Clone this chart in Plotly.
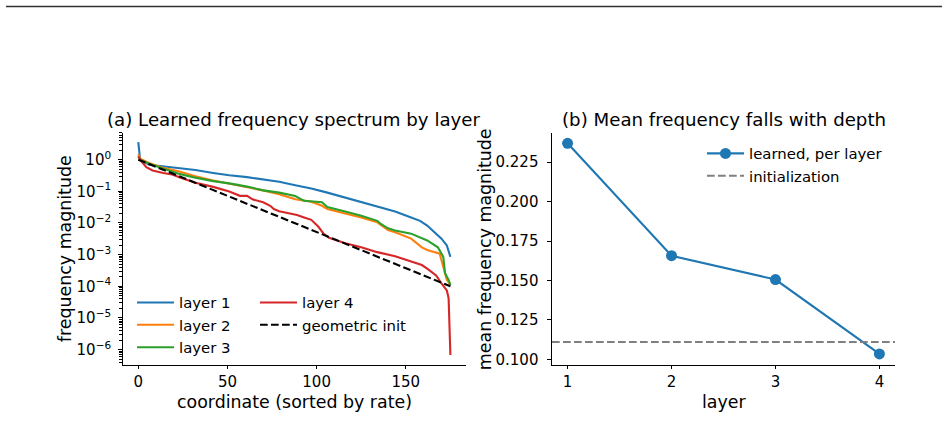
import plotly.graph_objects as go

W, H = 948, 423

# ---------------- data: panel (a) ----------------
coord_l1 = [0, 1, 6, 14, 23, 32, 42, 51, 61, 70, 79, 88, 97, 106, 116, 125, 134, 144, 153, 158, 162, 166, 170, 173, 175]
mag_l1 = [3.55, 1.0, 0.69, 0.62, 0.55, 0.47, 0.38, 0.32, 0.28, 0.24, 0.20, 0.155, 0.123, 0.091, 0.063,
          0.045, 0.032, 0.023, 0.015, 0.0117, 0.0083, 0.0051, 0.0032, 0.00195, 0.00085]

coord_l2 = [0, 1, 6, 14, 23, 32, 42, 51, 61, 70, 79, 88, 97, 103, 106, 116, 125, 134, 140, 144, 153, 159,
            162, 169, 171, 173, 175]
mag_l2 = [1.5, 1.07, 0.79, 0.55, 0.42, 0.30, 0.22, 0.174, 0.138, 0.107, 0.081, 0.056, 0.047, 0.035, 0.0275,
          0.020, 0.015, 0.0105, 0.006, 0.0051, 0.0032, 0.0017, 0.0014, 0.00107, 0.00041, 0.00016, 0.00011]

coord_l3 = [0, 1, 6, 14, 23, 32, 42, 51, 61, 70, 79, 88, 93, 103, 106, 116, 125, 134, 136, 140, 144, 153,
            159, 162, 168, 171, 172, 174, 175]
mag_l3 = [1.26, 1.0, 0.74, 0.52, 0.355, 0.27, 0.21, 0.178, 0.141, 0.107, 0.091, 0.071, 0.050, 0.045, 0.032,
          0.023, 0.017, 0.0117, 0.0093, 0.0068, 0.0058, 0.0046, 0.0034, 0.0028, 0.0017, 0.00085, 0.00026,
          0.00016, 0.00011]

coord_l4 = [0, 2, 4.5, 8, 14, 19, 23, 32, 42, 51, 57, 61, 64, 70, 74, 76, 79, 89, 93, 97, 101, 104, 107,
            116, 125, 134, 144, 153, 159, 162, 167, 170, 173, 174, 175]
mag_l4 = [1.26, 0.85, 0.575, 0.457, 0.38, 0.34, 0.28, 0.186, 0.138, 0.098, 0.072, 0.072, 0.056, 0.045, 0.035,
          0.0275, 0.0234, 0.018, 0.015, 0.0126, 0.0076, 0.0045, 0.0034, 0.0023, 0.0017, 0.0012, 0.00089,
          0.00062, 0.00047, 0.00036, 0.00022, 0.000123, 0.000074, 0.000042, 6.8e-7]

coord_init = [0, 175]
mag_init = [1.0, 1e-4]

# ---------------- data: panel (b) ----------------
layers = [1, 2, 3, 4]
mean_freq = [0.2369, 0.1657, 0.1506, 0.1035]
init_mean = [0.1111]

# tick labels
x_ticks_a = [0, 50, 100, 150]
y_tickvals_a = [1, 1e-1, 1e-2, 1e-3, 1e-4, 1e-5, 1e-6]
y_ticktext_a = ["10<sup>0</sup>", "10<sup>\u22121</sup>", "10<sup>\u22122</sup>", "10<sup>\u22123</sup>",
                "10<sup>\u22124</sup>", "10<sup>\u22125</sup>", "10<sup>\u22126</sup>"]
y_minor_a = [m * 10.0 ** k for k in range(-7, 1) for m in range(2, 10)]
y_ticks_b = [0.100, 0.125, 0.150, 0.175, 0.200, 0.225]

C1, C2, C3, C4 = "#1f77b4", "#ff7f0e", "#2ca02c", "#d62728"
FONT = "DejaVu Sans"

def px_x(p):
    return p / W

def px_y(p):
    return 1 - p / H

# axes boxes in pixels
A_L, A_R = 122.7, 466.0
B_L, B_R = 552.0, 895.0
TOP, BOT = 134.0, 368.0

fig = go.Figure()

LW = 2.1
fig.add_trace(go.Scatter(x=coord_l1, y=mag_l1, mode="lines", name="layer 1",
                         line=dict(color=C1, width=LW), legend="legend", xaxis="x", yaxis="y"))
fig.add_trace(go.Scatter(x=coord_l2, y=mag_l2, mode="lines", name="layer 2",
                         line=dict(color=C2, width=LW), legend="legend", xaxis="x", yaxis="y"))
fig.add_trace(go.Scatter(x=coord_l3, y=mag_l3, mode="lines", name="layer 3",
                         line=dict(color=C3, width=LW), legend="legend", xaxis="x", yaxis="y"))
fig.add_trace(go.Scatter(x=coord_l4, y=mag_l4, mode="lines", name="layer 4",
                         line=dict(color=C4, width=LW), legend="legend2", xaxis="x", yaxis="y"))
fig.add_trace(go.Scatter(x=coord_init, y=mag_init, mode="lines", name="geometric init",
                         line=dict(color="black", width=LW, dash="7.7px,3.3px"), legend="legend2",
                         xaxis="x", yaxis="y"))

xr_b = [0.85, 4.15]
fig.add_trace(go.Scatter(x=layers, y=mean_freq, mode="lines+markers", name="learned, per layer",
                         line=dict(color=C1, width=LW), marker=dict(color=C1, size=11),
                         legend="legend3", xaxis="x2", yaxis="y2"))
fig.add_trace(go.Scatter(x=xr_b, y=init_mean * 2, mode="lines", name="initialization",
                         line=dict(color="#808080", width=LW, dash="7.7px,3.3px"), legend="legend3",
                         xaxis="x2", yaxis="y2"))

axis_common = dict(showline=True, linecolor="black", linewidth=1.1, ticks="outside", ticklen=3.5,
                   tickwidth=1.1, tickcolor="black", showgrid=False, zeroline=False,
                   tickfont=dict(size=15, color="black", family=FONT), mirror=False)

leg_common = dict(xanchor="left", yanchor="top", bgcolor="rgba(0,0,0,0)", itemwidth=37,
                  font=dict(size=14.9, family=FONT, color="black"), tracegroupgap=0, borderwidth=0)

fig.update_layout(
    width=W, height=H, autosize=False,
    margin=dict(l=0, r=0, t=0, b=0, pad=0),
    paper_bgcolor="white", plot_bgcolor="white",
    font=dict(family=FONT, color="black"),
    xaxis=dict(domain=[px_x(A_L), px_x(A_R)], range=[-8.75, 183.75], tickvals=x_ticks_a,
               anchor="y", **axis_common),
    yaxis=dict(domain=[px_y(BOT), px_y(TOP)], type="log", range=[-6.47, 0.85], tickvals=y_tickvals_a,
               ticktext=y_ticktext_a, anchor="x", ticklabelstandoff=4,
               minor=dict(ticks="outside", ticklen=2.5, tickwidth=0.8, tickcolor="black",
                          tickmode="array", tickvals=y_minor_a, showgrid=False),
               **axis_common),
    xaxis2=dict(domain=[px_x(B_L), px_x(B_R)], range=xr_b, tickvals=layers, anchor="y2",
                **axis_common),
    yaxis2=dict(domain=[px_y(BOT), px_y(TOP)], range=[0.0968, 0.2436], tickvals=y_ticks_b,
                tickformat=".3f", anchor="x2", ticklabelstandoff=6, **axis_common),
    legend=dict(x=px_x(132), y=px_y(289), **leg_common),
    legend2=dict(x=px_x(255), y=px_y(289), **leg_common),
    legend3=dict(x=px_x(702), y=px_y(138.5), **leg_common),
    showlegend=True,
)

# top rule
fig.add_shape(type="line", xref="paper", yref="paper", x0=px_x(6), x1=px_x(942), y0=px_y(6.5),
              y1=px_y(6.5), line=dict(color="#333333", width=1.4))

# titles and axis labels
ann = [
    dict(text="(a) Learned frequency spectrum by layer", x=px_x((A_L + A_R) / 2), y=px_y(120.5),
         size=18.2, angle=0),
    dict(text="(b) Mean frequency falls with depth", x=px_x((B_L + B_R) / 2), y=px_y(120.5),
         size=18.2, angle=0),
    dict(text="coordinate (sorted by rate)", x=px_x((A_L + A_R) / 2), y=px_y(406), size=17.4, angle=0),
    dict(text="layer", x=px_x((B_L + B_R) / 2), y=px_y(406), size=17.4, angle=0),
    dict(text="frequency magnitude", x=px_x(64.5), y=px_y((TOP + BOT) / 2), size=17.4, angle=-90),
    dict(text="mean frequency magnitude", x=px_x(484.5), y=px_y((TOP + BOT) / 2), size=17.4, angle=-90),
]
for a in ann:
    fig.add_annotation(text=a["text"], x=a["x"], y=a["y"], xref="paper", yref="paper",
                       xanchor="center", yanchor="middle", showarrow=False, textangle=a["angle"],
                       font=dict(size=a["size"], family=FONT, color="black"))

fig.write_html("out.html")
